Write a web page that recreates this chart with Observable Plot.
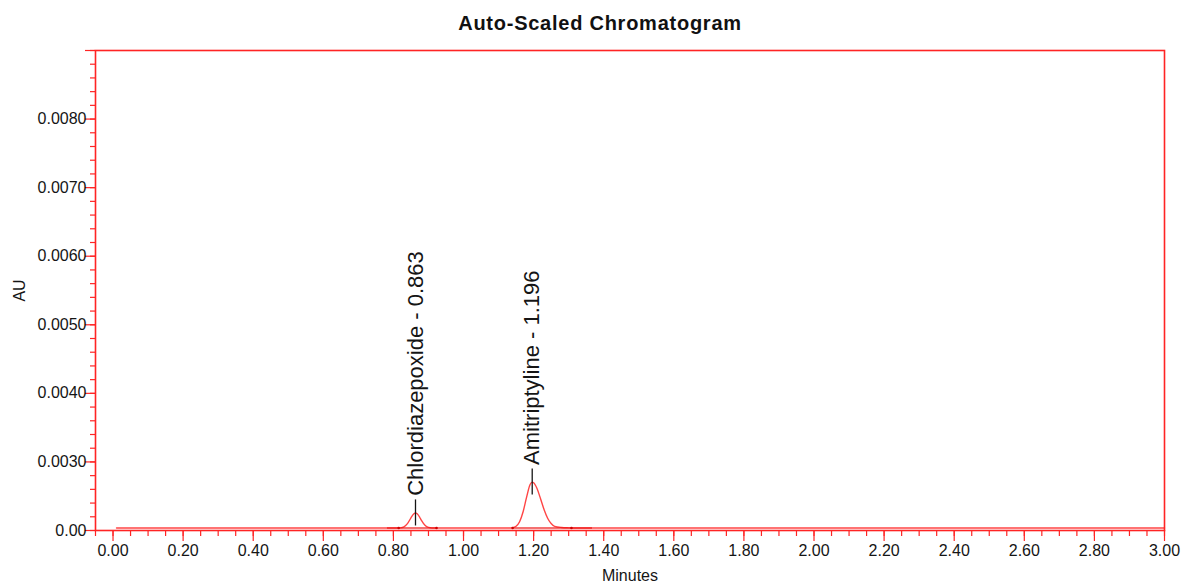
<!DOCTYPE html>
<html>
<head>
<meta charset="utf-8">
<script src="https://cdn.jsdelivr.net/npm/d3@7"></script>
<script src="https://cdn.jsdelivr.net/npm/@observablehq/plot@0.6"></script>
<style>
  html, body { margin: 0; padding: 0; background: #fff; }
  #wrap { width: 1184px; height: 583px; position: relative; font-family: "Liberation Sans", Arial, sans-serif; }
  #title { height: 40px; box-sizing: border-box; padding-top: 6px; line-height: 34px; width: 1200px;
           text-align: center; font-weight: bold; font-size: 20px; letter-spacing: 0.75px; color: #111; }
</style>
</head>
<body>
<div id="wrap">
  <div id="title">Auto-Scaled Chromatogram</div>
  <div id="chart"></div>
</div>
<script>
// ---- data ----
const times = [0.01, 0.78, 0.80, 0.82, 0.83, 0.84, 0.85, 0.855, 0.86, 0.863, 0.867, 0.87, 0.875, 0.88, 0.89, 0.90, 0.91, 0.93,
               1.12, 1.13, 1.14, 1.15, 1.16, 1.17, 1.18, 1.19, 1.196, 1.20, 1.21, 1.22, 1.23, 1.24, 1.25, 1.26, 1.28, 1.30, 1.33, 1.40, 3.00];
const absorbance = [0.002036, 0.002036, 0.002036, 0.002039, 0.002053, 0.002100, 0.002184, 0.002225, 0.002251, 0.002256, 0.002248, 0.002232, 0.002193, 0.002148, 0.002076, 0.002045, 0.002037, 0.002036,
               0.002036, 0.002037, 0.002041, 0.002062, 0.002127, 0.002273, 0.002487, 0.002670, 0.002706, 0.002697, 0.002609, 0.002459, 0.002302, 0.002178, 0.002101, 0.002061, 0.002044, 0.002039, 0.002036, 0.002036, 0.002036];

const peakNames = ["Chlordiazepoxide", "Amitriptyline"];
const peakTimes = [0.863, 1.196];
const peakHeights = [0.002256, 0.002706];
const intStart = [0.783, 1.140];
const intEnd = [0.926, 1.368];
const intMarks = [0.815, 0.923, 1.140, 1.308];
const baselineAU = 0.002036;

const xMajorTicks = d3.range(0, 16).map(i => +(i * 0.2).toFixed(2));
const xMinorTicks = d3.range(-1, 61).map(i => +(i * 0.05).toFixed(2));
const yMajorTicks = [0.002, 0.003, 0.004, 0.005, 0.006, 0.007, 0.008, 0.009];
const yMinorTicks = d3.range(10, 46).map(i => +(i * 0.0002).toFixed(4));
const yLabelFor = d => d === 0.002 ? "0.00" : d === 0.009 ? "" : d.toFixed(4);

// ---- build tables ----
const trace = times.map((t, i) => ({t, au: absorbance[i]}));
const peaks = peakNames.map((n, i) => ({name: n, t: peakTimes[i], h: peakHeights[i],
  label: `${n} - ${peakTimes[i].toFixed(3)}`}));
const integ = intStart.map((s, i) => ({s, e: intEnd[i]}));

const RED = "#ff2424";
const INK = "#151515";

const chart = Plot.plot({
  width: 1184,
  height: 543,
  marginLeft: 95,
  marginRight: 20,
  marginTop: 10,
  marginBottom: 53,
  style: {fontFamily: "'Liberation Sans', Arial, sans-serif", fontSize: "16px", color: INK, background: "white"},
  x: {domain: [-0.05, 3.0]},
  y: {domain: [0.002, 0.009]},
  marks: [
    // trace
    Plot.line(trace, {x: "t", y: "au", stroke: RED, strokeWidth: 1.4, strokeOpacity: 0.85, curve: "monotone-x"}),
    // integration baselines & marks
    Plot.ruleY(integ, {x1: "s", x2: "e", y: () => baselineAU, stroke: "#ee1111", strokeWidth: 1.5, strokeOpacity: 0.8}),
    Plot.dot(intMarks, {x: d => d, y: () => baselineAU, r: 1.3, fill: "#cc0000", stroke: null}),
    // peak label lines
    Plot.ruleX(peaks, {x: "t", y1: d => d.h - 0.00019, y2: d => d.h + 0.00019, stroke: INK, strokeWidth: 1.3}),
    Plot.text(peaks, {x: "t", y: d => d.h + 0.00025, text: "label", rotate: -90, textAnchor: "start",
      fontSize: 22, fill: INK}),
    // axes
    Plot.axisY(yMinorTicks, {tickSize: 5, tickFormat: () => "", stroke: RED, strokeWidth: 1.2, label: null}),
    Plot.axisY(yMajorTicks, {tickSize: 10, tickPadding: -1, tickFormat: yLabelFor, stroke: RED, strokeWidth: 1.2,
      fill: INK, fontSize: 16, label: "AU", labelAnchor: "center", labelOffset: 82, labelArrow: "none"}),
    Plot.axisX(xMinorTicks.filter(d => d >= -0.05), {tickSize: 6, tickFormat: () => "", stroke: RED, strokeWidth: 1.2, label: null}),
    Plot.axisX(xMajorTicks, {tickSize: 11, tickPadding: 3, tickFormat: d => d.toFixed(2), stroke: RED, strokeWidth: 1.2,
      fill: INK, fontSize: 16, label: "Minutes", labelAnchor: "center", labelOffset: 50, labelArrow: "none"}),
    Plot.frame({stroke: RED, strokeWidth: 1.6})
  ]
});
document.getElementById("chart").appendChild(chart);
</script>
</body>
</html>
